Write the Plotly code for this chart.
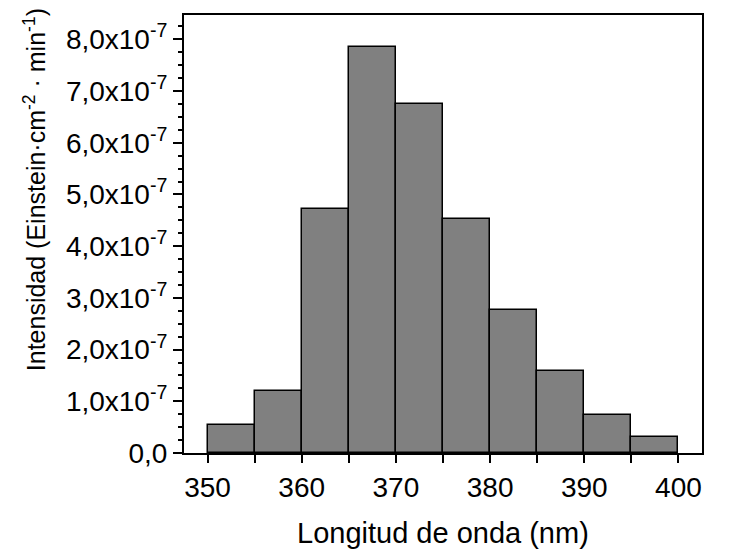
import plotly.graph_objects as go

bin_centers = [352.5, 357.5, 362.5, 367.5, 372.5, 377.5, 382.5, 387.5, 392.5, 397.5]
intensity = [0.54e-7, 1.20e-7, 4.71e-7, 7.85e-7, 6.75e-7, 4.52e-7, 2.77e-7, 1.59e-7, 0.74e-7, 0.31e-7]
bin_width = 5

x_ticks = [350, 360, 370, 380, 390, 400]
y_tick_vals = [0, 1e-7, 2e-7, 3e-7, 4e-7, 5e-7, 6e-7, 7e-7, 8e-7]
y_tick_text = ["0,0"] + [f"{i},0x10<sup>-7</sup>" for i in range(1, 9)]

font_family = "Liberation Sans, Arial, sans-serif"

fig = go.Figure()
fig.add_trace(go.Bar(
    x=bin_centers, y=intensity, width=[bin_width] * len(bin_centers),
    marker=dict(color="#808080", line=dict(color="black", width=1.5)),
    showlegend=False,
))

fig.update_layout(
    width=740, height=549,
    margin=dict(l=184, r=38, t=15, b=96),
    paper_bgcolor="white", plot_bgcolor="white",
    font=dict(family=font_family, color="black", size=28),
    bargap=0,
    xaxis=dict(
        range=[347.5, 402.5], tickvals=x_ticks, ticktext=[str(v) for v in x_ticks],
        ticks="outside", ticklen=8, tickwidth=1.5, tickcolor="black",
        minor=dict(dtick=5, tick0=350, ticks="outside", ticklen=8, tickwidth=1.5, tickcolor="black"),
        showline=True, linecolor="black", linewidth=2, mirror=True,
        showgrid=False, zeroline=False,
        tickfont=dict(size=28),
    ),
    yaxis=dict(
        range=[0, 8.47e-7], tickvals=y_tick_vals, ticktext=y_tick_text,
        ticks="outside", ticklen=9, tickwidth=1.5, tickcolor="black",
        minor=dict(dtick=0.25e-7, tick0=0, ticks="outside", ticklen=4, tickwidth=1.5, tickcolor="black"),
        showline=True, linecolor="black", linewidth=2, mirror=True,
        showgrid=False, zeroline=False,
        tickfont=dict(size=28),
    ),
    annotations=[
        dict(
            text="Intensidad (Einstein·cm<sup>-2</sup> · min<sup>-1</sup>)",
            textangle=-90, xref="paper", yref="paper",
            x=-0.2876, y=0.600, xanchor="center", yanchor="middle",
            showarrow=False, font=dict(size=25, family=font_family, color="black"),
        ),
        dict(
            text="Longitud de onda (nm)",
            xref="paper", yref="paper",
            x=0.5, y=-0.1826, xanchor="center", yanchor="middle",
            showarrow=False, font=dict(size=29, family=font_family, color="black"),
        ),
    ],
)

fig.write_html("out.html", config={"displayModeBar": False},
               post_script="document.body.style.margin='0';")
